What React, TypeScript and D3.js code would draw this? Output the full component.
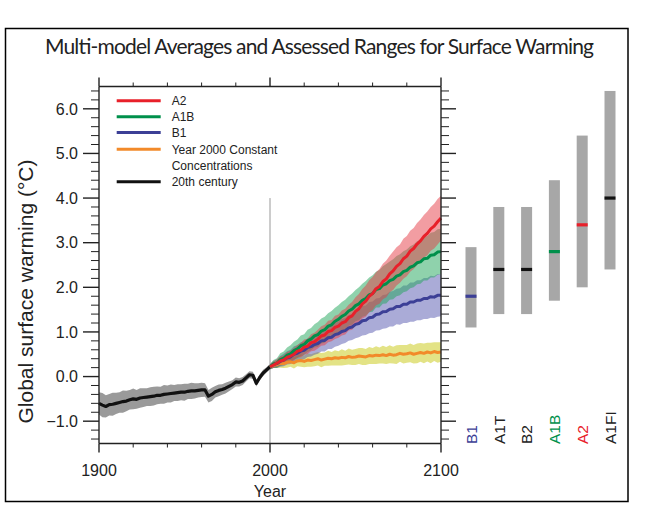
import React from 'react';
import * as d3 from 'd3';

// ---------- DATA ----------
const centuryYears = d3.range(1900, 2001, 2);
const scenarioYears = d3.range(2000, 2101, 2);

const centuryMean = [
  -0.60, -0.64, -0.67, -0.63, -0.62, -0.60, -0.58, -0.56, -0.55, -0.52,
  -0.50, -0.51, -0.48, -0.47, -0.46, -0.45, -0.44, -0.42, -0.42, -0.40,
  -0.39, -0.38, -0.37, -0.36, -0.35, -0.35, -0.33, -0.32, -0.32, -0.31,
  -0.30, -0.30, -0.44, -0.40, -0.34, -0.31, -0.29, -0.26, -0.22, -0.18,
  -0.12, -0.13, -0.10, -0.03, 0.04, 0.03, -0.15, -0.02, 0.08, 0.15,
  0.22,
];
const centurySpread = [
  0.25, 0.27, 0.25, 0.24, 0.26, 0.24, 0.23, 0.25, 0.23, 0.22,
  0.23, 0.21, 0.22, 0.21, 0.20, 0.21, 0.21, 0.20, 0.19, 0.21,
  0.19, 0.20, 0.18, 0.19, 0.18, 0.19, 0.17, 0.18, 0.17, 0.16,
  0.16, 0.15, 0.14, 0.15, 0.13, 0.13, 0.12, 0.12, 0.11, 0.10,
  0.10, 0.09, 0.09, 0.08, 0.08, 0.08, 0.07, 0.07, 0.07, 0.06,
  0.06,
];

const a2Mean = [
  0.22, 0.26, 0.30, 0.35, 0.37, 0.43, 0.46, 0.50, 0.57, 0.59,
  0.66, 0.68, 0.76, 0.78, 0.84, 0.91, 0.93, 1.01, 1.03, 1.10,
  1.13, 1.20, 1.23, 1.32, 1.36, 1.46, 1.52, 1.63, 1.69, 1.80,
  1.86, 1.97, 2.02, 2.13, 2.19, 2.30, 2.37, 2.47, 2.53, 2.64,
  2.70, 2.81, 2.87, 2.97, 3.04, 3.14, 3.21, 3.31, 3.37, 3.47,
  3.55,
];
const a2Spread = [
  0.05, 0.07, 0.08, 0.10, 0.10, 0.12, 0.12, 0.14, 0.14, 0.16,
  0.17, 0.17, 0.19, 0.20, 0.21, 0.22, 0.23, 0.24, 0.24, 0.26,
  0.26, 0.28, 0.29, 0.29, 0.31, 0.32, 0.33, 0.33, 0.35, 0.36,
  0.37, 0.37, 0.39, 0.40, 0.41, 0.41, 0.43, 0.43, 0.43, 0.45,
  0.45, 0.46, 0.46, 0.47, 0.48, 0.48, 0.49, 0.49, 0.50, 0.51,
  0.50,
];

const a1bMean = [
  0.22, 0.28, 0.30, 0.38, 0.41, 0.48, 0.51, 0.58, 0.62, 0.69,
  0.72, 0.80, 0.84, 0.91, 0.94, 1.02, 1.05, 1.13, 1.16, 1.24,
  1.28, 1.35, 1.39, 1.47, 1.51, 1.59, 1.63, 1.71, 1.75, 1.83,
  1.86, 1.95, 1.97, 2.05, 2.08, 2.15, 2.18, 2.25, 2.28, 2.35,
  2.38, 2.45, 2.48, 2.55, 2.57, 2.64, 2.65, 2.72, 2.73, 2.79,
  2.80,
];
const a1bSpread = [
  0.06, 0.09, 0.11, 0.14, 0.15, 0.17, 0.19, 0.20, 0.21, 0.23,
  0.23, 0.25, 0.25, 0.26, 0.28, 0.28, 0.29, 0.29, 0.31, 0.30,
  0.32, 0.32, 0.33, 0.33, 0.35, 0.35, 0.37, 0.37, 0.39, 0.39,
  0.41, 0.40, 0.42, 0.42, 0.44, 0.43, 0.45, 0.45, 0.46, 0.46,
  0.47, 0.47, 0.48, 0.48, 0.49, 0.49, 0.50, 0.50, 0.51, 0.51,
  0.51,
];

const b1Mean = [
  0.22, 0.27, 0.29, 0.34, 0.37, 0.42, 0.44, 0.50, 0.52, 0.57,
  0.59, 0.65, 0.67, 0.72, 0.74, 0.80, 0.81, 0.87, 0.88, 0.94,
  0.96, 1.01, 1.03, 1.09, 1.11, 1.17, 1.19, 1.25, 1.26, 1.32,
  1.33, 1.39, 1.40, 1.45, 1.46, 1.51, 1.52, 1.57, 1.57, 1.62,
  1.62, 1.67, 1.67, 1.71, 1.71, 1.75, 1.75, 1.79, 1.78, 1.82,
  1.82,
];
const b1Spread = [
  0.06, 0.08, 0.10, 0.12, 0.14, 0.15, 0.16, 0.18, 0.18, 0.20,
  0.20, 0.21, 0.22, 0.23, 0.23, 0.24, 0.25, 0.25, 0.26, 0.27,
  0.27, 0.28, 0.28, 0.29, 0.29, 0.31, 0.31, 0.33, 0.33, 0.35,
  0.35, 0.36, 0.36, 0.38, 0.38, 0.39, 0.40, 0.40, 0.41, 0.42,
  0.42, 0.44, 0.44, 0.45, 0.45, 0.46, 0.46, 0.47, 0.47, 0.48,
  0.47,
];

const constMean = [
  0.22, 0.26, 0.27, 0.30, 0.29, 0.32, 0.33, 0.31, 0.35, 0.36,
  0.34, 0.37, 0.36, 0.38, 0.40, 0.37, 0.39, 0.41, 0.40, 0.42,
  0.41, 0.43, 0.42, 0.45, 0.43, 0.44, 0.46, 0.45, 0.44, 0.47,
  0.46, 0.48, 0.47, 0.49, 0.47, 0.50, 0.48, 0.49, 0.52, 0.50,
  0.51, 0.53, 0.50, 0.52, 0.54, 0.52, 0.55, 0.53, 0.56, 0.54,
  0.55,
];
const constSpread = [
  0.05, 0.07, 0.08, 0.10, 0.10, 0.12, 0.11, 0.13, 0.12, 0.14,
  0.13, 0.15, 0.14, 0.15, 0.15, 0.16, 0.15, 0.17, 0.15, 0.17,
  0.16, 0.18, 0.16, 0.18, 0.17, 0.18, 0.18, 0.19, 0.18, 0.19,
  0.18, 0.20, 0.18, 0.20, 0.19, 0.20, 0.19, 0.21, 0.19, 0.21,
  0.20, 0.21, 0.21, 0.22, 0.21, 0.22, 0.21, 0.23, 0.21, 0.23,
  0.22,
];

// Assessed ranges (2090-2099)
const rangeNames = ['B1', 'A1T', 'B2', 'A1B', 'A2', 'A1FI'];
const rangeLow = [1.1, 1.4, 1.4, 1.7, 2.0, 2.4];
const rangeHigh = [2.9, 3.8, 3.8, 4.4, 5.4, 6.4];
const rangeBest = [1.8, 2.4, 2.4, 2.8, 3.4, 4.0];

const yMajorTicks = [-1, 0, 1, 2, 3, 4, 5, 6];
const yTickLabels = ['\u22121.0', '0.0', '1.0', '2.0', '3.0', '4.0', '5.0', '6.0'];
const xMajorTicks = [1900, 2000, 2100];

const legendLabels = ['A2', 'A1B', 'B1', 'Year 2000 Constant', '20th century'];

// ---------- STYLE ----------
const RED = '#e8202a';
const GREEN = '#00904b';
const BLUE = '#3c3f96';
const ORANGE = '#f28a2a';
const BLACK = '#111';
const FONT = '"Liberation Sans", Arial, Helvetica, sans-serif';
const TXT = '#222';

export default function App() {
  const x = d3.scaleLinear().domain([1900, 2100]).range([99, 441]);
  const y = d3.scaleLinear().domain([-1.5, 6.5]).range([443.5, 86.5]);
  const xb = d3.scalePoint<string>().domain(rangeNames).range([471, 610]);
  const barW = 11;

  const line = (years: number[], vals: number[]) =>
    d3.line<number>().x((_, i) => x(years[i])).y((v) => y(v))(vals) || '';
  const band = (years: number[], vals: number[], spr: number[]) =>
    d3
      .area<number>()
      .x((_, i) => x(years[i]))
      .y0((v, i) => y(v - spr[i]))
      .y1((v, i) => y(v + spr[i]))(vals) || '';

  const yMinor = d3.range(-14, 65, 2).map((v) => v / 10).filter((v) => Math.abs(v - Math.round(v)) > 1e-6);
  const xMinor = d3.range(1920, 2100, 20).filter((v) => v !== 2000);

  const x0 = x.range()[0];
  const x1 = x.range()[1];
  const yBot = y.range()[0];
  const yTop = y.range()[1];

  const legendColors = [RED, GREEN, BLUE, ORANGE, BLACK];
  const legendY = [100.7, 116.7, 132.5, 149.3, 181.7];
  const labelColors: Record<string, string> = { B1: BLUE, A1B: GREEN, A2: RED };

  return (
    <svg width={656} height={518} style={{ position: 'absolute', left: 0, top: 0, background: '#fff' }}>
      <rect x={5.5} y={28.5} width={622.5} height={473} fill="none" stroke="#000" strokeWidth={1.5} />
      <text x={319.5} y={54} textAnchor="middle" fontFamily='Lato, "Open Sans", sans-serif' fontSize={21} fill="#222" textLength={549} lengthAdjust="spacing">
        Multi-model Averages and Assessed Ranges for Surface Warming
      </text>

      {/* bands */}
      <path d={band(centuryYears, centuryMean, centurySpread)} fill="#9a9a9a" />
      <path d={band(scenarioYears, constMean, constSpread)} fill="#cccc22" fillOpacity={0.55} />
      <path d={band(scenarioYears, b1Mean, b1Spread)} fill="#5558b0" fillOpacity={0.5} />
      <path d={band(scenarioYears, a1bMean, a1bSpread)} fill="#1fa55a" fillOpacity={0.5} />
      <path d={band(scenarioYears, a2Mean, a2Spread)} fill="#e63c46" fillOpacity={0.5} />

      {/* 2000 marker line */}
      <line x1={x(2000)} x2={x(2000)} y1={yBot} y2={y(4.0)} stroke="#999" strokeWidth={1} />

      {/* lines */}
      <path d={line(centuryYears, centuryMean)} fill="none" stroke={BLACK} strokeWidth={3.2} strokeLinejoin="round" />
      <path d={line(scenarioYears, constMean)} fill="none" stroke={ORANGE} strokeWidth={3} strokeLinejoin="round" />
      <path d={line(scenarioYears, b1Mean)} fill="none" stroke={BLUE} strokeWidth={3} strokeLinejoin="round" />
      <path d={line(scenarioYears, a1bMean)} fill="none" stroke={GREEN} strokeWidth={3} strokeLinejoin="round" />
      <path d={line(scenarioYears, a2Mean)} fill="none" stroke={RED} strokeWidth={3} strokeLinejoin="round" />

      {/* axes frame */}
      <g stroke="#222" strokeWidth={1.4} fill="none">
        <line x1={x0} x2={x1} y1={yBot} y2={yBot} />
        <line x1={x0} x2={x1} y1={yTop} y2={yTop} />
        <line x1={x0} x2={x0} y1={yTop} y2={yBot} />
        <line x1={x1} x2={x1} y1={yTop} y2={yBot} />
        {yMajorTicks.map((v) => (
          <g key={'ym' + v}>
            <line x1={x0 - 16} x2={x0} y1={y(v)} y2={y(v)} />
            <line x1={x1} x2={x1 + 15} y1={y(v)} y2={y(v)} />
          </g>
        ))}
        {yMinor.map((v) => (
          <g key={'yn' + v}>
            <line x1={x0 - 8} x2={x0} y1={y(v)} y2={y(v)} strokeWidth={1} />
            <line x1={x1} x2={x1 + 8} y1={y(v)} y2={y(v)} strokeWidth={1} />
          </g>
        ))}
        {xMajorTicks.map((v) => (
          <g key={'xm' + v}>
            <line x1={x(v)} x2={x(v)} y1={yBot} y2={yBot + 9} />
            <line x1={x(v)} x2={x(v)} y1={yTop} y2={yTop - 9} />
          </g>
        ))}
        {xMinor.map((v) => (
          <g key={'xn' + v}>
            <line x1={x(v)} x2={x(v)} y1={yBot} y2={yBot + 4} strokeWidth={1} />
            <line x1={x(v)} x2={x(v)} y1={yTop} y2={yTop - 4} strokeWidth={1} />
          </g>
        ))}
      </g>

      {/* tick labels */}
      <g fontFamily={FONT} fontSize={16} fill={TXT}>
        {yMajorTicks.map((v, i) => (
          <text key={'yl' + v} x={78} y={y(v)} dy="0.36em" textAnchor="end">
            {yTickLabels[i]}
          </text>
        ))}
        {xMajorTicks.map((v) => (
          <text key={'xl' + v} x={x(v)} y={476} textAnchor="middle">
            {v}
          </text>
        ))}
        <text x={x(2000)} y={497} textAnchor="middle">Year</text>
      </g>
      <text
        transform={`translate(33,291.5) rotate(-90)`}
        textAnchor="middle"
        fontFamily={FONT}
        fontSize={21}
        fill={TXT}
      >
        Global surface warming (°C)
      </text>

      {/* legend */}
      <g fontFamily={FONT} fontSize={12} fill={TXT}>
        {legendLabels.map((lab, i) => (
          <g key={lab}>
            <line x1={116.7} x2={160.7} y1={legendY[i]} y2={legendY[i]} stroke={legendColors[i]} strokeWidth={3} />
            <text x={171.7} y={legendY[i]} dy="0.36em">{lab}</text>
          </g>
        ))}
        <text x={171.7} y={165.3} dy="0.36em">Concentrations</text>
      </g>

      {/* assessed range bars */}
      {rangeNames.map((n, i) => (
        <g key={n}>
          <rect x={(xb(n) as number) - barW / 2} width={barW} y={y(rangeHigh[i])} height={y(rangeLow[i]) - y(rangeHigh[i])} fill="#a7a7a7" />
          <rect x={(xb(n) as number) - barW / 2} width={barW} y={y(rangeBest[i]) - 1.6} height={3.2} fill={labelColors[n] || BLACK} />
          <text
            transform={`translate(${(xb(n) as number) + 5.7},444) rotate(-90)`}
            textAnchor="start"
            fontFamily={FONT}
            fontSize={15.5}
            fill={labelColors[n] || TXT}
          >
            {n}
          </text>
        </g>
      ))}
    </svg>
  );
}
